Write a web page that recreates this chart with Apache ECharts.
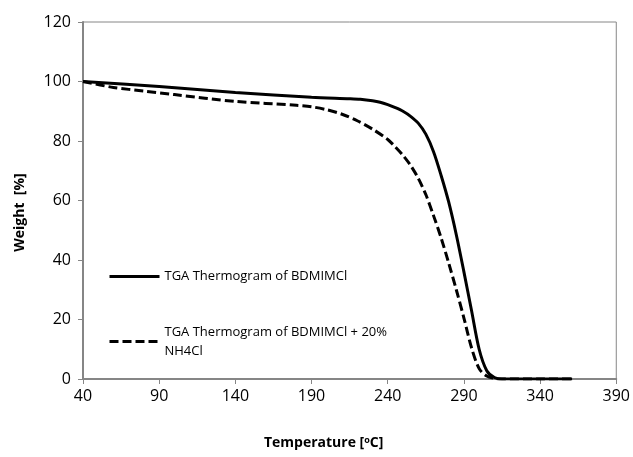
<!DOCTYPE html>
<html lang="en">
<head>
    <meta charset="UTF-8">
    <title>TGA Thermogram</title>
    <script src="https://cdn.jsdelivr.net/npm/echarts@6/dist/echarts.min.js"></script>
    <style>
        html, body { margin: 0; padding: 0; background: #fff; }
        #container { width: 633px; height: 457px; }
    </style>
</head>
<body>
<div id="container"></div>
<script>
    // 纯 BDMIMCl
    var pureTemp   = [40, 90, 140, 190, 215, 222, 230, 235, 240, 245, 250, 255, 260, 265, 270, 275, 280, 285, 290, 295, 300, 305, 310, 315, 330, 361];
    var pureWeight = [100, 98.3, 96.3, 94.7, 94.2, 94.0, 93.5, 93.0, 92.2, 91.2, 90.0, 88.3, 86.0, 82.3, 76.5, 68.5, 59.5, 48.5, 36, 23, 10, 2.8, 0.5, 0, 0, 0];
    // BDMIMCl + 20% NH4Cl
    var mixTemp   = [40, 60, 80, 100, 140, 180, 190, 200, 210, 220, 230, 240, 245, 250, 255, 260, 265, 270, 275, 280, 285, 290, 295, 300, 305, 310, 315, 340, 361];
    var mixWeight = [100, 98, 96.8, 95.6, 93.3, 92, 91.5, 90.5, 89, 86.8, 84, 80.5, 78, 75.2, 71.8, 67.5, 62, 55, 47.5, 39, 30, 20.5, 10.5, 3.5, 1, 0.2, 0, 0, 0];

    var xTicks = [40, 90, 140, 190, 240, 290, 340, 390];
    var yTicks = [0, 20, 40, 60, 80, 100, 120];

    var names = ['TGA Thermogram of BDMIMCl', 'TGA Thermogram of BDMIMCl + 20% NH4Cl'];

    function zip(a, b) {
        var out = [];
        for (var i = 0; i < a.length; i++) out.push([a[i], b[i]]);
        return out;
    }

    var axisColor = '#868686';
    var myChart = echarts.init(document.getElementById('container'));

    var legendBase = {
        left: 108, padding: 0,
        itemWidth: 50, itemHeight: 16, itemGap: 0,
        itemStyle: { opacity: 0 },
        lineStyle: { width: 3 }
    };

    var option = {
        animation: false,
        textStyle: { fontFamily: 'Open Sans' },
        grid: {
            left: 83, top: 22, right: 16, bottom: 78,
            show: true, borderColor: axisColor, borderWidth: 1
        },
        legend: [
            Object.assign({}, legendBase, {
                data: [names[0]],
                top: 270,
                textStyle: { fontSize: 13, color: '#000', fontFamily: 'Open Sans' }
            }),
            Object.assign({}, legendBase, {
                data: [names[1]],
                top: 313,
                formatter: function () { return 'TGA Thermogram of BDMIMCl + 20%\nNH4Cl'; },
                textStyle: { fontSize: 13, color: '#000', fontFamily: 'Open Sans', lineHeight: 19, padding: [19, 0, 0, 0] }
            })
        ],
        xAxis: {
            type: 'value',
            min: xTicks[0], max: xTicks[xTicks.length - 1], interval: 50,
            name: 'Temperature [{sup|o}C]',
            nameLocation: 'middle', nameGap: 57,
            nameTextStyle: {
                fontSize: 14, fontWeight: 'bold', color: '#000', padding: [0, 52, 0, 0],
                rich: { sup: { fontSize: 9, fontWeight: 'bold', verticalAlign: 'top', padding: [0, 0, 6, 0] } }
            },
            axisLine: { lineStyle: { color: axisColor, width: 2 } },
            axisTick: { show: true, length: 5, lineStyle: { color: axisColor, width: 1 } },
            axisLabel: { fontSize: 16, color: '#000', margin: 9 },
            splitLine: { show: false }
        },
        yAxis: {
            type: 'value',
            min: yTicks[0], max: yTicks[yTicks.length - 1], interval: 20,
            name: 'Weight  [%]',
            nameLocation: 'middle', nameGap: 56, nameRotate: 90,
            nameTextStyle: { fontSize: 14, fontWeight: 'bold', color: '#000', padding: [0, 24, 0, 0] },
            axisLine: { show: true, lineStyle: { color: axisColor, width: 2 } },
            axisTick: { show: true, length: 5, lineStyle: { color: axisColor, width: 1 } },
            axisLabel: { fontSize: 16, color: '#000', margin: 12 },
            splitLine: { show: false }
        },
        series: [
            {
                name: names[0],
                type: 'line',
                data: zip(pureTemp, pureWeight),
                smooth: 0.3,
                symbol: 'none',
                itemStyle: { color: '#000' },
                lineStyle: { color: '#000', width: 3, type: 'solid' }
            },
            {
                name: names[1],
                type: 'line',
                data: zip(mixTemp, mixWeight),
                smooth: 0.3,
                symbol: 'none',
                itemStyle: { color: '#000' },
                lineStyle: { color: '#000', width: 3, type: [9, 4] }
            }
        ]
    };

    myChart.setOption(option);
</script>
</body>
</html>
